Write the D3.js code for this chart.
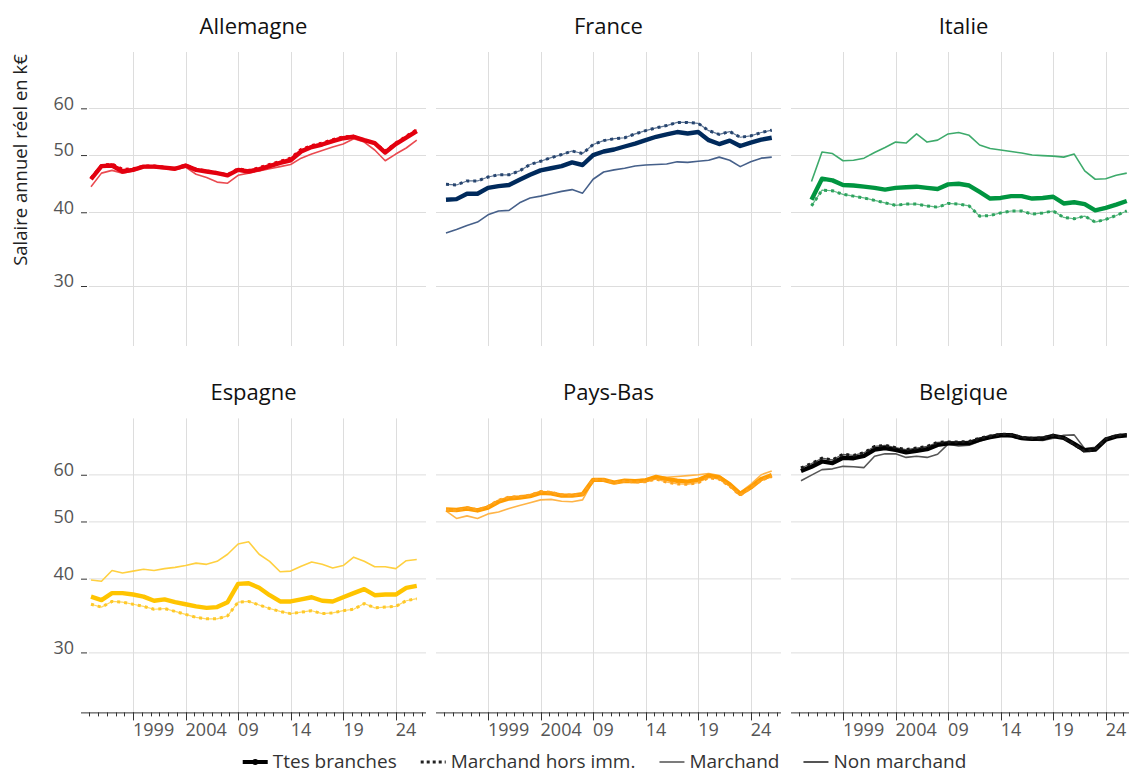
<!DOCTYPE html>
<html lang="fr">
<head>
<meta charset="utf-8">
<script src="https://cdn.jsdelivr.net/npm/d3@7"></script>
<style>
  body { margin: 0; background: #fff; }
  svg { display: block; font-family: "Open Sans", sans-serif; }
</style>
</head>
<body>
<div id="chart"></div>
<script>
// données (salaire annuel réel, k€)
const annees = [1995, 1996, 1997, 1998, 1999, 2000, 2001, 2002, 2003, 2004, 2005, 2006, 2007, 2008, 2009, 2010,
  2011, 2012, 2013, 2014, 2015, 2016, 2017, 2018, 2019, 2020, 2021, 2022, 2023, 2024, 2025, 2026];
const pays = ["Allemagne", "France", "Italie", "Espagne", "Pays-Bas", "Belgique"];
const series = ["Ttes branches", "Marchand hors imm.", "Marchand", "Non marchand"];
const anneesRepere = [1999, 2004, 2009, 2014, 2019, 2024];
const etiquettesRepere = ["1999", "2004", "09", "14", "19", "24"];
const graduationsY = [30, 40, 50, 60];

const allemagneTtes = [45.5, 47.9, 48.0, 46.9, 47.2, 47.8, 47.8, 47.6, 47.4, 48.0, 47.2, 46.9, 46.6, 46.2, 47.2, 46.9,
  47.3, 47.9, 48.5, 49.0, 50.7, 51.6, 52.1, 52.8, 53.4, 53.7, 53.0, 52.4, 50.5, 52.2, 53.5, 54.9];
const allemagneHors = [45.7, 48.0, 48.3, 47.3, 47.4, 47.9, 47.9, 47.7, 47.5, 48.1, 47.3, 47.0, 46.7, 46.3, 47.4, 47.1,
  47.6, 48.2, 48.8, 49.4, 51.1, 51.9, 52.4, 53.1, 53.7, 53.8, 53.0, 52.4, 50.8, 52.4, 53.8, 55.2];
const allemagneAutre = [44.2, 46.6, 47.1, 46.6, 47.0, 47.6, 47.6, 47.4, 47.2, 47.7, 46.4, 45.8, 45.0, 44.8, 46.2, 46.6,
  47.0, 47.4, 47.8, 48.2, 49.4, 50.2, 50.9, 51.6, 52.2, 53.3, 52.6, 51.0, 48.9, 50.2, 51.4, 53.0];

const franceTtes = [42.0, 42.1, 43.0, 43.0, 44.0, 44.3, 44.5, 45.4, 46.3, 47.1, 47.5, 47.9, 48.6, 48.1, 50.0, 50.7,
  51.1, 51.7, 52.3, 53.0, 53.7, 54.2, 54.7, 54.4, 54.7, 53.0, 52.2, 52.9, 51.8, 52.5, 53.1, 53.5];
const franceHors = [44.6, 44.5, 45.2, 45.2, 45.9, 46.3, 46.3, 47.0, 48.2, 48.8, 49.5, 50.1, 50.8, 50.3, 52.1, 52.9,
  53.3, 53.5, 54.3, 55.0, 55.6, 56.1, 56.8, 56.8, 56.6, 55.0, 54.2, 54.8, 53.6, 53.9, 54.6, 55.1];
const franceAutre = [36.9, 37.4, 38.0, 38.5, 39.6, 40.2, 40.3, 41.5, 42.3, 42.6, 43.0, 43.4, 43.7, 43.1, 45.5, 46.8,
  47.2, 47.5, 47.9, 48.1, 48.2, 48.3, 48.7, 48.6, 48.8, 49.0, 49.6, 49.0, 47.8, 48.7, 49.4, 49.6];

const italieTtes = [null, 42.0, 45.6, 45.3, 44.5, 44.4, 44.2, 44.0, 43.7, 44.0, 44.1, 44.2, 44.0, 43.8, 44.6, 44.7,
  44.4, 43.3, 42.2, 42.3, 42.6, 42.6, 42.2, 42.3, 42.5, 41.4, 41.6, 41.3, 40.3, 40.7, 41.2, 41.8];
const italieHors = [null, 41.0, 43.6, 43.5, 42.9, 42.6, 42.3, 41.9, 41.5, 41.1, 41.3, 41.3, 41.0, 40.8, 41.4, 41.3,
  41.0, 39.4, 39.5, 39.9, 40.2, 40.2, 39.7, 39.9, 40.2, 39.2, 39.0, 39.4, 38.5, 38.9, 39.5, 40.2];
const italieAutre = [null, 45.1, 50.6, 50.3, 48.9, 49.0, 49.4, 50.5, 51.5, 52.6, 52.4, 54.3, 52.6, 53.0, 54.3, 54.6,
  54.0, 52.0, 51.3, 51.0, 50.7, 50.4, 50.0, 49.9, 49.8, 49.6, 50.2, 47.0, 45.5, 45.6, 46.2, 46.6];

const espagneTtes = [37.3, 36.8, 37.8, 37.8, 37.6, 37.3, 36.7, 36.9, 36.5, 36.2, 35.9, 35.7, 35.8, 36.5, 39.2, 39.3,
  38.6, 37.5, 36.6, 36.6, 36.9, 37.2, 36.7, 36.6, 37.2, 37.8, 38.4, 37.5, 37.6, 37.6, 38.6, 38.9];
const espagneHors = [36.2, 35.8, 36.6, 36.5, 36.2, 35.9, 35.5, 35.6, 35.2, 34.8, 34.4, 34.2, 34.2, 34.6, 36.5, 36.6,
  36.1, 35.6, 35.2, 34.9, 35.1, 35.3, 34.9, 35.0, 35.3, 35.5, 36.3, 35.7, 35.8, 35.9, 36.7, 37.0];
const espagneAutre = [39.8, 39.6, 41.3, 40.9, 41.2, 41.5, 41.3, 41.6, 41.8, 42.1, 42.5, 42.3, 42.8, 44.0, 45.8, 46.2,
  44.0, 42.8, 41.1, 41.2, 42.0, 42.7, 42.3, 41.7, 42.1, 43.5, 42.8, 41.9, 41.9, 41.6, 42.9, 43.1];

const paysBasTtes = [52.4, 52.3, 52.6, 52.2, 52.8, 54.0, 54.7, 54.9, 55.2, 55.9, 55.8, 55.3, 55.3, 55.6, 58.8, 58.8,
  58.2, 58.6, 58.5, 58.7, 59.5, 59.0, 58.6, 58.4, 58.8, 59.8, 59.4, 57.8, 55.7, 57.1, 59.0, 59.9];
const paysBasHors = [52.3, 52.2, 52.8, 52.3, 53.0, 54.3, 55.0, 55.1, 55.4, 56.2, 56.0, 55.5, 55.4, 55.6, 58.9, 58.8,
  58.1, 58.5, 58.3, 58.4, 59.0, 58.3, 57.9, 57.8, 58.2, 59.3, 59.0, 57.4, 55.4, 57.0, 58.8, 59.6];
const paysBasAutre = [52.1, 50.6, 51.1, 50.6, 51.5, 51.9, 52.6, 53.2, 53.8, 54.4, 54.5, 54.1, 54.0, 54.4, 58.6, 58.7,
  58.4, 58.8, 58.7, 59.0, 59.6, 59.4, 59.6, 59.8, 60.0, 60.3, 59.8, 58.0, 56.0, 57.8, 60.0, 60.9];

const belgiqueTtes = [60.9, 61.9, 63.2, 62.8, 64.1, 64.0, 64.6, 66.2, 66.6, 66.1, 65.5, 65.9, 66.3, 67.4, 67.8, 67.8,
  67.9, 68.8, 69.5, 70.0, 70.0, 69.2, 69.0, 69.1, 69.8, 69.3, 67.7, 66.0, 66.2, 68.8, 69.7, 70.0];
const belgiqueHors = [61.6, 62.7, 64.0, 63.6, 65.0, 64.7, 65.4, 67.0, 67.3, 66.7, 66.2, 66.6, 67.0, 68.1, 68.2, 68.2,
  68.3, 69.2, 69.8, 70.3, 70.2, 69.4, 69.2, 69.3, 70.0, 69.3, 67.5, 65.7, 66.2, 69.0, 69.9, 70.2];
const belgiqueAutre = [58.6, 59.9, 61.2, 61.4, 62.0, 61.9, 61.7, 64.5, 65.1, 65.1, 64.2, 64.5, 64.2, 65.0, 67.6, 67.1,
  67.3, 68.4, 69.3, 70.0, 69.6, 68.9, 68.7, 68.6, 69.2, 70.0, 70.1, 66.4, 66.8, 69.2, 69.8, 70.0];

const couleursEpaisses = ["#e3000f", "#002a5c", "#009540", "#ffc400", "#ff9c00", "#000000"];
const couleursPointillees = ["#e3000f", "#27456f", "#2ea35e", "#ffc92a", "#ffa41f", "#1a1a1a"];
const couleursFines = ["#ea4a50", "#46608a", "#3daa6b", "#ffd040", "#ffb447", "#555555"];

const valeursTtes = [allemagneTtes, franceTtes, italieTtes, espagneTtes, paysBasTtes, belgiqueTtes];
const valeursHors = [allemagneHors, franceHors, italieHors, espagneHors, paysBasHors, belgiqueHors];
const valeursAutre = [allemagneAutre, franceAutre, italieAutre, espagneAutre, paysBasAutre, belgiqueAutre];

const W = 1129, H = 775;
const gauche = 81, pasColonne = 355, largeur = 345, hauteur = 294;
const hautsLignes = [52, 418.4];

const svg = d3.select("#chart").append("svg").attr("width", W).attr("height", H);

const x = d3.scaleLinear().domain([1994.05, 2026.88]).range([0, largeur]);
const y = d3.scaleLog().domain([23.74, 74.75]).range([hauteur, 0]);

const ligne = d3.line()
  .defined(d => d[1] != null)
  .x(d => x(d[0]))
  .y(d => y(d[1]));

const points = vals => annees.map((a, i) => [a, vals[i]]);

const graduationsMineures = d3.range(-6, 34)
  .map(k => 1999 + k * 5 / 6)
  .filter(a => x(a) >= 0 && x(a) <= largeur);

pays.forEach((nom, i) => {
  const col = i % 3, rang = Math.floor(i / 3);
  const g = svg.append("g")
    .attr("transform", `translate(${gauche + col * pasColonne},${hautsLignes[rang]})`);

  // grille
  g.append("g")
    .attr("stroke", "#dddddd")
    .attr("stroke-width", 1)
    .selectAll("line")
    .data(graduationsY)
    .join("line")
    .attr("x1", col === 0 ? 8 : 0)
    .attr("x2", largeur)
    .attr("y1", d => Math.round(y(d)) + 0.5)
    .attr("y2", d => Math.round(y(d)) + 0.5);

  g.append("g")
    .attr("stroke", "#dddddd")
    .attr("stroke-width", 1)
    .selectAll("line")
    .data(anneesRepere)
    .join("line")
    .attr("x1", d => Math.round(x(d)) + 0.5)
    .attr("x2", d => Math.round(x(d)) + 0.5)
    .attr("y1", 0)
    .attr("y2", hauteur);

  // titre du panneau
  g.append("text")
    .attr("x", largeur / 2)
    .attr("y", -18)
    .attr("text-anchor", "middle")
    .attr("font-size", 22)
    .attr("fill", "#111")
    .text(nom);

  // axe vertical (colonne de gauche)
  if (col === 0) {
    const axeY = g.append("g")
      .attr("transform", "translate(6,0)")
      .call(d3.axisLeft(y).tickValues(graduationsY).tickFormat(d3.format("d")).tickSize(6).tickPadding(7));
    axeY.select(".domain").remove();
    axeY.selectAll(".tick line").attr("stroke", "#333");
    axeY.selectAll(".tick text")
      .attr("dy", "0.05em")
      .attr("font-family", "Open Sans, sans-serif")
      .attr("font-size", 18)
      .attr("fill", "#555");
  }

  // axe horizontal (rang du bas)
  if (rang === 1) {
    const axeX = g.append("g").attr("transform", `translate(0,${hauteur})`);
    axeX.append("line")
      .attr("x1", 0).attr("x2", largeur)
      .attr("y1", 0.5).attr("y2", 0.5)
      .attr("stroke", "#333");
    axeX.selectAll(".mineure")
      .data(graduationsMineures)
      .join("line")
      .attr("class", "mineure")
      .attr("x1", d => Math.round(x(d)) + 0.5)
      .attr("x2", d => Math.round(x(d)) + 0.5)
      .attr("y1", 0).attr("y2", 4)
      .attr("stroke", "#333");
    axeX.selectAll(".majeure")
      .data(anneesRepere)
      .join("line")
      .attr("class", "majeure")
      .attr("x1", d => Math.round(x(d)) + 0.5)
      .attr("x2", d => Math.round(x(d)) + 0.5)
      .attr("y1", 0).attr("y2", 8)
      .attr("stroke", "#333");
    axeX.selectAll(".etiquette")
      .data(anneesRepere)
      .join("text")
      .attr("class", "etiquette")
      .attr("x", d => x(d))
      .attr("y", 24)
      .attr("font-size", 18)
      .attr("fill", "#555")
      .text((d, k) => etiquettesRepere[k]);
  }

  // courbes
  const courbes = g.append("g").attr("fill", "none").attr("stroke-linejoin", "round");

  courbes.append("path")
    .attr("d", ligne(points(valeursAutre[i])))
    .attr("stroke", couleursFines[i])
    .attr("stroke-width", 1.6);

  courbes.append("path")
    .attr("d", ligne(points(valeursTtes[i])))
    .attr("stroke", couleursEpaisses[i])
    .attr("stroke-width", 4.4);

  courbes.append("path")
    .attr("d", ligne(points(valeursHors[i])))
    .attr("stroke", couleursPointillees[i])
    .attr("stroke-opacity", 0.75)
    .attr("stroke-width", 1.2);

  courbes.append("path")
    .attr("d", ligne(points(valeursHors[i])))
    .attr("stroke", couleursPointillees[i])
    .attr("stroke-width", 3)
    .attr("stroke-dasharray", "3,4");
});

// titre de l'axe vertical
svg.append("text")
  .attr("transform", "translate(27,160) rotate(-90)")
  .attr("text-anchor", "middle")
  .attr("font-size", 18.5)
  .attr("fill", "#222")
  .text("Salaire annuel réel en k€");

// légende
const legende = svg.append("g").attr("transform", `translate(0,762)`);
const styles = [
  { couleur: "#000", largeur: 4, tirets: null, point: true },
  { couleur: "#222", largeur: 3, tirets: "3,3", point: false },
  { couleur: "#111", largeur: 1.1, tirets: null, point: false },
  { couleur: "#555", largeur: 2, tirets: null, point: false }
];
const items = legende.selectAll("g")
  .data(series)
  .join("g");
items.each(function (d, k) {
  const it = d3.select(this);
  const s = styles[k];
  it.append("line")
    .attr("x1", 0).attr("x2", 25)
    .attr("y1", 0).attr("y2", 0)
    .attr("stroke", s.couleur)
    .attr("stroke-width", s.largeur)
    .attr("stroke-dasharray", s.tirets);
  if (s.point) it.append("circle").attr("cx", 12.5).attr("r", 3).attr("fill", s.couleur);
  it.append("text")
    .attr("x", 30)
    .attr("y", 6)
    .attr("font-size", 19)
    .attr("fill", "#333")
    .text(d);
});
const ecart = 24;
let curseur = 0;
const positions = [];
items.each(function () {
  positions.push(curseur);
  curseur += this.getBBox().width + ecart;
});
const total = curseur - ecart;
const centre = gauche + (2 * pasColonne + largeur) / 2 - 4;
items.attr("transform", (d, k) => `translate(${centre - total / 2 + positions[k]},0)`);
</script>
</body>
</html>
